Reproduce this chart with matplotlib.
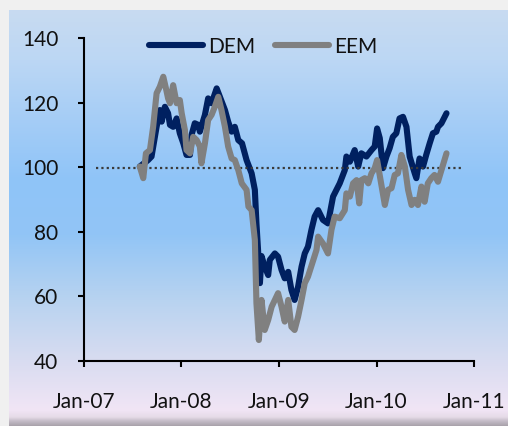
import matplotlib
matplotlib.use('Agg')
import matplotlib.pyplot as plt
import matplotlib.dates as mdates
import numpy as np
import pandas as pd
from matplotlib.colors import to_rgb

# ---------------- data ----------------
dem_dates = ['2007-07-29', '2007-08-29', '2007-09-11', '2007-09-30', '2007-10-12', '2007-10-19',
             '2007-10-31', '2007-11-12', '2007-11-19', '2007-12-01', '2007-12-14', '2007-12-26',
             '2008-01-08', '2008-01-20', '2008-02-02', '2008-02-08', '2008-02-20', '2008-03-04',
             '2008-03-10', '2008-03-29', '2008-04-10', '2008-04-23', '2008-05-12', '2008-05-24',
             '2008-06-12', '2008-06-24', '2008-07-07', '2008-07-19', '2008-08-01', '2008-08-15',
             '2008-09-01', '2008-09-20', '2008-10-02', '2008-10-08', '2008-10-14', '2008-10-21',
             '2008-10-27', '2008-11-08', '2008-11-21', '2008-11-27', '2008-12-16', '2008-12-28',
             '2009-01-10', '2009-01-22', '2009-02-04', '2009-02-16', '2009-02-28', '2009-03-13',
             '2009-03-26', '2009-04-07', '2009-04-19', '2009-05-02', '2009-05-14', '2009-05-27',
             '2009-06-14', '2009-07-03', '2009-07-22', '2009-08-16', '2009-09-04', '2009-09-10',
             '2009-09-23', '2009-10-11', '2009-10-24', '2009-11-05', '2009-11-24', '2009-12-13',
             '2009-12-25', '2010-01-03', '2010-01-13', '2010-01-25', '2010-02-07', '2010-02-19',
             '2010-03-03', '2010-03-16', '2010-03-28', '2010-04-10', '2010-04-23', '2010-05-05',
             '2010-05-24', '2010-05-30', '2010-06-11', '2010-06-24', '2010-07-06', '2010-07-19',
             '2010-07-31', '2010-08-13', '2010-08-19', '2010-09-01', '2010-09-20']
dem_values = [100.2, 102.2, 103.3, 112.5, 117.7, 114.1,
              118.7, 116.7, 113.1, 112.5, 115.1, 110.5,
              107.4, 103.8, 103.8, 110.0, 113.6, 113.1,
              111.0, 116.2, 121.3, 119.8, 124.4, 121.8,
              117.7, 114.1, 111.0, 112.5, 108.4, 107.4,
              102.2, 98.1, 93.0, 82.6, 74.4, 64.1,
              72.5, 69.2, 66.6, 71.3, 73.3, 72.3,
              68.2, 65.6, 67.6, 62.0, 58.9, 63.0,
              69.2, 73.3, 75.4, 80.6, 84.7, 86.7,
              83.7, 82.6, 90.9, 95.0, 99.1, 103.3,
              101.7, 105.3, 100.2, 104.3, 103.3, 105.3,
              106.4, 112.0, 109.0, 99.7, 103.3, 105.9,
              109.4, 110.5, 115.1, 115.6, 112.5, 103.3,
              98.1, 96.6, 102.7, 100.2, 103.8, 107.4,
              110.5, 111.0, 112.5, 113.6, 116.7]

eem_dates = ['2007-07-29', '2007-08-11', '2007-08-21', '2007-09-05', '2007-09-17', '2007-09-30',
             '2007-10-12', '2007-10-25', '2007-11-04', '2007-11-12', '2007-11-19', '2007-12-01',
             '2007-12-14', '2007-12-26', '2008-01-02', '2008-01-14', '2008-01-20', '2008-02-02',
             '2008-02-14', '2008-02-27', '2008-03-10', '2008-03-16', '2008-03-29', '2008-04-10',
             '2008-04-23', '2008-05-05', '2008-05-18', '2008-05-30', '2008-06-12', '2008-06-24',
             '2008-07-07', '2008-07-19', '2008-08-01', '2008-08-14', '2008-09-01', '2008-09-08',
             '2008-09-20', '2008-10-02', '2008-10-08', '2008-10-17', '2008-10-27', '2008-11-08',
             '2008-11-21', '2008-12-04', '2008-12-16', '2008-12-28', '2009-01-10', '2009-01-22',
             '2009-02-04', '2009-02-16', '2009-02-28', '2009-03-13', '2009-03-26', '2009-04-07',
             '2009-04-19', '2009-05-08', '2009-05-21', '2009-05-27', '2009-06-14', '2009-07-03',
             '2009-07-16', '2009-07-28', '2009-08-16', '2009-09-04', '2009-09-10', '2009-09-23',
             '2009-10-05', '2009-10-18', '2009-10-28', '2009-11-05', '2009-11-18', '2009-12-01',
             '2009-12-13', '2009-12-25', '2010-01-03', '2010-01-16', '2010-02-01', '2010-02-13',
             '2010-02-26', '2010-03-10', '2010-03-22', '2010-04-04', '2010-04-17', '2010-04-29',
             '2010-05-12', '2010-05-24', '2010-06-05', '2010-06-18', '2010-06-30', '2010-07-12',
             '2010-07-25', '2010-08-06', '2010-08-19', '2010-09-01', '2010-09-20']
eem_values = [100.2, 96.6, 104.3, 105.3, 112.5, 122.9,
              124.9, 128.0, 124.4, 121.3, 119.8, 125.4,
              119.8, 120.8, 116.7, 111.5, 105.3, 104.3,
              109.4, 108.4, 106.4, 101.2, 107.4, 114.6,
              116.2, 118.7, 121.8, 117.7, 112.5, 106.4,
              102.7, 102.2, 99.1, 95.0, 93.0, 87.8,
              86.7, 77.5, 57.9, 46.5, 58.9, 49.6,
              52.7, 56.8, 58.9, 61.0, 56.8, 52.2,
              58.9, 50.6, 49.6, 53.7, 58.9, 64.1,
              66.1, 71.0, 74.4, 78.5, 76.4, 73.3,
              80.6, 84.7, 84.2, 86.7, 91.9, 90.9,
              95.0, 96.0, 88.8, 96.0, 96.6, 95.0,
              98.1, 99.7, 102.2, 96.0, 88.3, 93.0,
              93.5, 97.6, 98.1, 103.8, 100.2, 93.0,
              88.3, 89.9, 88.3, 94.0, 89.3, 95.0,
              96.6, 97.6, 95.5, 99.1, 104.3]

ref_dates = ['2007-02-15', '2010-11-24']
ref_values = [99.6, 99.6]

series_labels = ['DEM', 'EEM']
x_tick_dates = ['2007-01-01', '2008-01-01', '2009-01-01', '2010-01-01', '2011-01-01']
y_ticks = [40, 60, 80, 100, 120, 140]

# ---------------- figure ----------------
W, H = 508, 426
fig = plt.figure(figsize=(W / 100, H / 100), dpi=100)
fig.patch.set_facecolor('#f0f0f0')

# gradient background panel
bg_left, bg_top = 9, 10
ax_bg = fig.add_axes([bg_left / W, 0, 1 - bg_left / W, 1 - bg_top / H], zorder=-5)
ax_bg.set_axis_off()
stops_px = [10, 60, 120, 180, 235, 300, 360, 410, 417, 421, 426]
stops_col = ['#c8dbf1', '#bcd7f4', '#a5cdf6', '#8fc4f8', '#92c5f6', '#b8d3f0',
             '#d8dcf1', '#f1e5f5', '#e6dbe8', '#c4bcc7', '#a8a1aa']
rows = np.arange(bg_top, H) + 0.5
cols = np.array([to_rgb(c) for c in stops_col])
grad = np.stack([np.interp(rows, stops_px, cols[:, k]) for k in range(3)], axis=-1)
grad = grad[:, None, :].repeat(2, axis=1)
ax_bg.imshow(grad, aspect='auto', extent=[0, 1, 0, 1], interpolation='bilinear')
ax_bg.set_xlim(0, 1)
ax_bg.set_ylim(0, 1)

# main axes
ax_l, ax_r, ax_t, ax_b = 84, 474, 38, 361
ax = fig.add_axes([ax_l / W, 1 - ax_b / H, (ax_r - ax_l) / W, (ax_b - ax_t) / H])
ax.set_facecolor('none')

font = 'Lato'
txt_color = '#111111'
fsize = 15

d_dem = pd.to_datetime(dem_dates)
d_eem = pd.to_datetime(eem_dates)
d_ref = pd.to_datetime(ref_dates)

ax.plot(d_dem, dem_values, color='#002060', lw=4.4, solid_joinstyle='round',
        solid_capstyle='round', label=series_labels[0], zorder=3)
ax.plot(d_ref, ref_values, color='#3a3a3a', lw=1.6, linestyle=(0, (1, 1.4)), zorder=4)
ax.plot(d_eem, eem_values, color='#808080', lw=4.4, solid_joinstyle='round',
        solid_capstyle='round', label=series_labels[1], zorder=5)

ax.set_xlim(pd.Timestamp(x_tick_dates[0]), pd.Timestamp(x_tick_dates[-1]))
ax.set_ylim(y_ticks[0], y_ticks[-1])
ax.set_xticks(pd.to_datetime(x_tick_dates))
ax.xaxis.set_major_formatter(mdates.DateFormatter('%b-%y'))
ax.set_yticks(y_ticks)

for s in ['top', 'right']:
    ax.spines[s].set_visible(False)
for s in ['left', 'bottom']:
    ax.spines[s].set_linewidth(1.5)
    ax.spines[s].set_color('#000000')

ax.tick_params(axis='both', direction='out', length=4.5, width=1.5, color='#000000',
               labelsize=fsize, labelcolor=txt_color)
ax.tick_params(axis='x', pad=18)
ax.tick_params(axis='y', pad=14)
for lab in ax.get_xticklabels() + ax.get_yticklabels():
    lab.set_fontfamily(font)

leg = ax.legend(loc='center', bbox_to_anchor=(263 / W, 1 - 46.7 / H),
                bbox_transform=fig.transFigure, ncol=2, frameon=False,
                handlelength=2.6, handletextpad=0.25, columnspacing=0.95,
                prop={'family': font, 'size': fsize}, borderaxespad=0, borderpad=0)
for t in leg.get_texts():
    t.set_color(txt_color)

fig.savefig('out.png', dpi=100, facecolor=fig.get_facecolor())
